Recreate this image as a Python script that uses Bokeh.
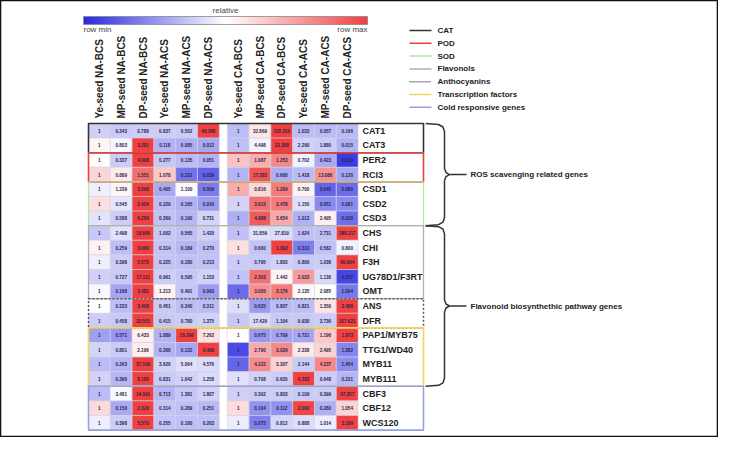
import numpy as np
from bokeh.plotting import figure
from bokeh.models import ColumnDataSource, LinearColorMapper, Range1d
from bokeh.core.properties import value
from bokeh.embed import file_html
from bokeh.resources import INLINE

# ---------------- data ----------------
genes = ["CAT1", "CAT3", "PER2", "RCI3", "CSD1", "CSD2", "CSD3", "CHS", "CHI", "F3H",
         "UG78D1/F3RT", "OMT", "ANS", "DFR", "PAP1/MYB75", "TTG1/WD40", "MYB11",
         "MYB111", "CBF3", "CBF12", "WCS120"]

samples_na = ["Ye-seed NA-BCS", "MP-seed NA-BCS", "DP-seed NA-BCS",
              "Ye-seed NA-ACS", "MP-seed NA-ACS", "DP-seed NA-ACS"]
samples_ca = ["Ye-seed CA-BCS", "MP-seed CA-BCS", "DP-seed CA-BCS",
              "Ye-seed CA-ACS", "MP-seed CA-ACS", "DP-seed CA-ACS"]

ye_na_bcs = [1] * 21
mp_na_bcs = [0.343, 0.803, 0.337, 0.889, 1.239, 0.545, 0.588, 2.498, 0.259, 0.398, 0.727,
             0.168, 0.333, 0.458, 0.571, 0.801, 0.263, 0.390, 3.481, 0.150, 0.398]
dp_na_bcs = [0.788, 3.281, 4.008, 1.551, 3.098, 2.454, 6.284, 18.660, 3.080, 5.570, 17.111,
             3.481, 3.498, 32.551, 6.433, 2.196, 37.539, 8.180, 14.091, 2.320, 5.570]
ye_na_acs = [0.837, 0.118, 0.277, 1.078, 0.405, 0.229, 0.369, 1.002, 0.314, 0.225, 0.961,
             1.213, 0.451, 0.415, 1.889, 0.366, 3.620, 0.831, 0.713, 0.314, 0.255]
mp_na_acs = [0.502, 0.085, 0.135, 0.122, 1.100, 0.165, 0.190, 0.565, 0.189, 0.180, 0.595,
             0.491, 0.340, 0.780, 16.396, 0.132, 5.064, 1.042, 1.381, 0.289, 0.180]
dp_na_acs = [40.368, 0.012, 0.051, 0.039, 0.009, 0.016, 0.731, 1.420, 0.270, 0.213, 1.153,
             0.093, 0.311, 1.375, 7.262, 6.499, 4.576, 1.258, 1.807, 0.251, 0.203]

ye_ca_bcs = [1] * 21
mp_ca_bcs = [32.869, 4.498, 1.087, 17.383, 0.816, 3.615, 4.986, 31.859, 0.600, 0.795, 2.303,
             3.005, 0.625, 17.429, 0.675, 2.790, 4.222, 0.708, 0.302, 0.104, 0.075]
dp_ca_bcs = [105.316, 22.308, 1.253, 0.668, 1.209, 3.478, 3.654, 27.819, 1.802, 1.803, 1.442,
             3.176, 0.807, 1.104, 0.709, 3.029, 3.307, 0.620, 0.803, 0.112, 0.812]
ye_ca_acs = [1.033, 2.290, 0.702, 1.418, 0.700, 1.150, 1.013, 1.624, 0.313, 0.800, 2.023,
             2.135, 0.821, 0.930, 0.721, 2.338, 2.144, 6.182, 0.109, 2.002, 0.888]
mp_ca_acs = [0.057, 1.880, 0.423, 13.086, 0.045, 0.051, 2.495, 2.731, 0.582, 1.038, 1.130,
             2.085, 1.350, 3.736, 1.196, 2.495, 4.237, 0.648, 0.399, 0.280, 1.014]
dp_ca_acs = [0.166, 0.015, 0.019, 0.120, 0.080, 0.081, 0.020, 288.217, 0.800, 60.064, 0.257,
             1.094, 2.486, 317.621, 1.673, 1.382, 1.454, 0.231, 67.357, 1.054, 3.189]

na_columns = [ye_na_bcs, mp_na_bcs, dp_na_bcs, ye_na_acs, mp_na_acs, dp_na_acs]
ca_columns = [ye_ca_bcs, mp_ca_bcs, dp_ca_bcs, ye_ca_acs, mp_ca_acs, dp_ca_acs]

group_names = ["CAT", "POD", "SOD", "Flavonols", "Anthocyanins",
               "Transcription factors", "Cold responsive genes"]
group_start = [0, 2, 4, 7, 12, 14, 18]
group_end = [2, 4, 7, 12, 14, 18, 21]

bracket_labels = ["ROS scavenging related genes", "Flavonoid biosynthethic pathway genes"]
bracket_start = [0, 7]
bracket_end = [7, 18]

# ---------------- styles / layout ----------------
group_colors = ["#333333", "#e8413c", "#b8e3a4", "#b0b0b0", "#555566", "#f2d45c", "#97a3dc"]
group_dash = ["solid", "solid", "solid", "solid", "2 2", "solid", "solid"]
group_width = [1.6, 1.6, 1.3, 1.3, 1.5, 1.6, 1.6]

X0, CW, GAP = 96.0, 21.8, 8.0
Y0, RH = 131.0, 14.6
BOX_R = 431.0
LABEL_X = 370.0
FONT = "Liberation Sans"

# palette blue -> white -> red
def _blend(c1, c2, t):
    return tuple(int(round(a + (b - a) * t)) for a, b in zip(c1, c2))

blue, white, red = (40, 40, 225), (255, 255, 255), (240, 64, 64)
palette = []
for i in range(256):
    t = i / 255
    c = _blend(blue, white, t * 2) if t < 0.5 else _blend(white, red, (t - 0.5) * 2)
    palette.append("#%02x%02x%02x" % c)
ZMAX = 1.9
mapper = LinearColorMapper(palette=palette, low=-ZMAX, high=ZMAX)

# ---------------- build cell table (row-relative colour per block) ----------------
xs, ys, zs, txt = [], [], [], []
for block, cols in enumerate([na_columns, ca_columns]):
    mat = np.array(cols, dtype=float).T  # rows = genes
    mu = mat.mean(axis=1, keepdims=True)
    sd = mat.std(axis=1, keepdims=True)
    sd[sd == 0] = 1
    z = (mat - mu) / sd
    for r in range(mat.shape[0]):
        for c in range(mat.shape[1]):
            xs.append(X0 + block * (6 * CW + GAP) + (c + 0.5) * CW)
            ys.append(Y0 + (r + 0.5) * RH)
            zs.append(float(z[r, c]))
            v = mat[r, c]
            txt.append("1" if v == 1 else f"{v:.3f}")
cells = ColumnDataSource(dict(x=xs, y=ys, z=zs, t=txt))

p = figure(width=718, height=437, output_backend="svg", toolbar_location=None,
           x_range=Range1d(8, 726), y_range=Range1d(445, 8), min_border=0)
p.axis.visible = False
p.grid.visible = False
p.outline_line_color = "#111111"
p.outline_line_width = 1.6
p.background_fill_color = "white"

p.rect(x="x", y="y", width=CW, height=RH, source=cells,
       fill_color={"field": "z", "transform": mapper},
       line_color="#d2d2e0", line_width=0.6)
p.text(x="x", y="y", text="t", source=cells, text_align="center", text_baseline="middle",
       text_font=value(FONT), text_font_size="4.6px", text_font_style="bold",
       text_color="#26264a")

# column headers
hx = [X0 + (c + 0.5) * CW for c in range(6)] + [X0 + 6 * CW + GAP + (c + 0.5) * CW for c in range(6)]
p.text(x=hx, y=[126] * 12, text=samples_na + samples_ca, angle=np.pi / 2,
       text_align="left", text_baseline="middle", text_font=value(FONT),
       text_font_size="10px", text_font_style="bold", text_color="#222222")

# gene labels
p.text(x=[LABEL_X] * len(genes), y=[Y0 + (r + 0.5) * RH for r in range(len(genes))],
       text=genes, text_align="left", text_baseline="middle", text_font=value(FONT),
       text_font_size="9px", text_font_style="bold", text_color="#222222")

# group boxes
for i in range(len(group_names)):
    p.quad(left=X0, right=BOX_R, top=Y0 + group_start[i] * RH, bottom=Y0 + group_end[i] * RH,
           fill_alpha=0, line_color=group_colors[i], line_width=group_width[i],
           line_dash=group_dash[i])

# legend
for i, name in enumerate(group_names):
    ly = 38 + i * 12.8
    p.line(x=[417, 439], y=[ly, ly], line_color=group_colors[i], line_width=1.5,
           line_dash="1 1" if group_dash[i] != "solid" else "solid")
    p.text(x=[445], y=[ly], text=[name], text_align="left", text_baseline="middle",
           text_font=value(FONT), text_font_size="8px", text_font_style="bold",
           text_color="#222222")

# brackets
for i, lab in enumerate(bracket_labels):
    top = Y0 + bracket_start[i] * RH
    bot = Y0 + bracket_end[i] * RH
    mid = (top + bot) / 2
    bx = [433, 446, 450.5, 452, 452, 453.5, 457, 453.5, 452, 452, 450.5, 446, 433]
    by = [top, top + 1, top + 3.5, top + 8, mid - 6, mid - 2, mid, mid + 2, mid + 6,
          bot - 8, bot - 3.5, bot - 1, bot]
    p.line(x=bx, y=by, line_color="#333333", line_width=1.5)
    p.line(x=[457, 474], y=[mid, mid], line_color="#333333", line_width=1.5)
    p.text(x=[478], y=[mid], text=[lab], text_align="left", text_baseline="middle",
           text_font=value(FONT), text_font_size="8px", text_font_style="bold",
           text_color="#222222")

# colour bar
p.image(image=[np.linspace(-ZMAX, ZMAX, 256).reshape(1, 256)], x=91, y=24, dw=284, dh=8,
        color_mapper=mapper)
p.quad(left=91, right=375, top=24, bottom=32, fill_alpha=0, line_color="#888888",
       line_width=0.8)
p.text(x=[233], y=[18], text=["relative"], text_align="center", text_baseline="middle",
       text_font=value(FONT), text_font_size="8px", text_color="#444444")
p.text(x=[91, 375], y=[37, 37], text=["row min", "row max"], text_align=["left", "right"],
       text_baseline="middle", text_font=value(FONT), text_font_size="8px",
       text_color="#444444")

open("out.html", "w").write(file_html(p, INLINE))
